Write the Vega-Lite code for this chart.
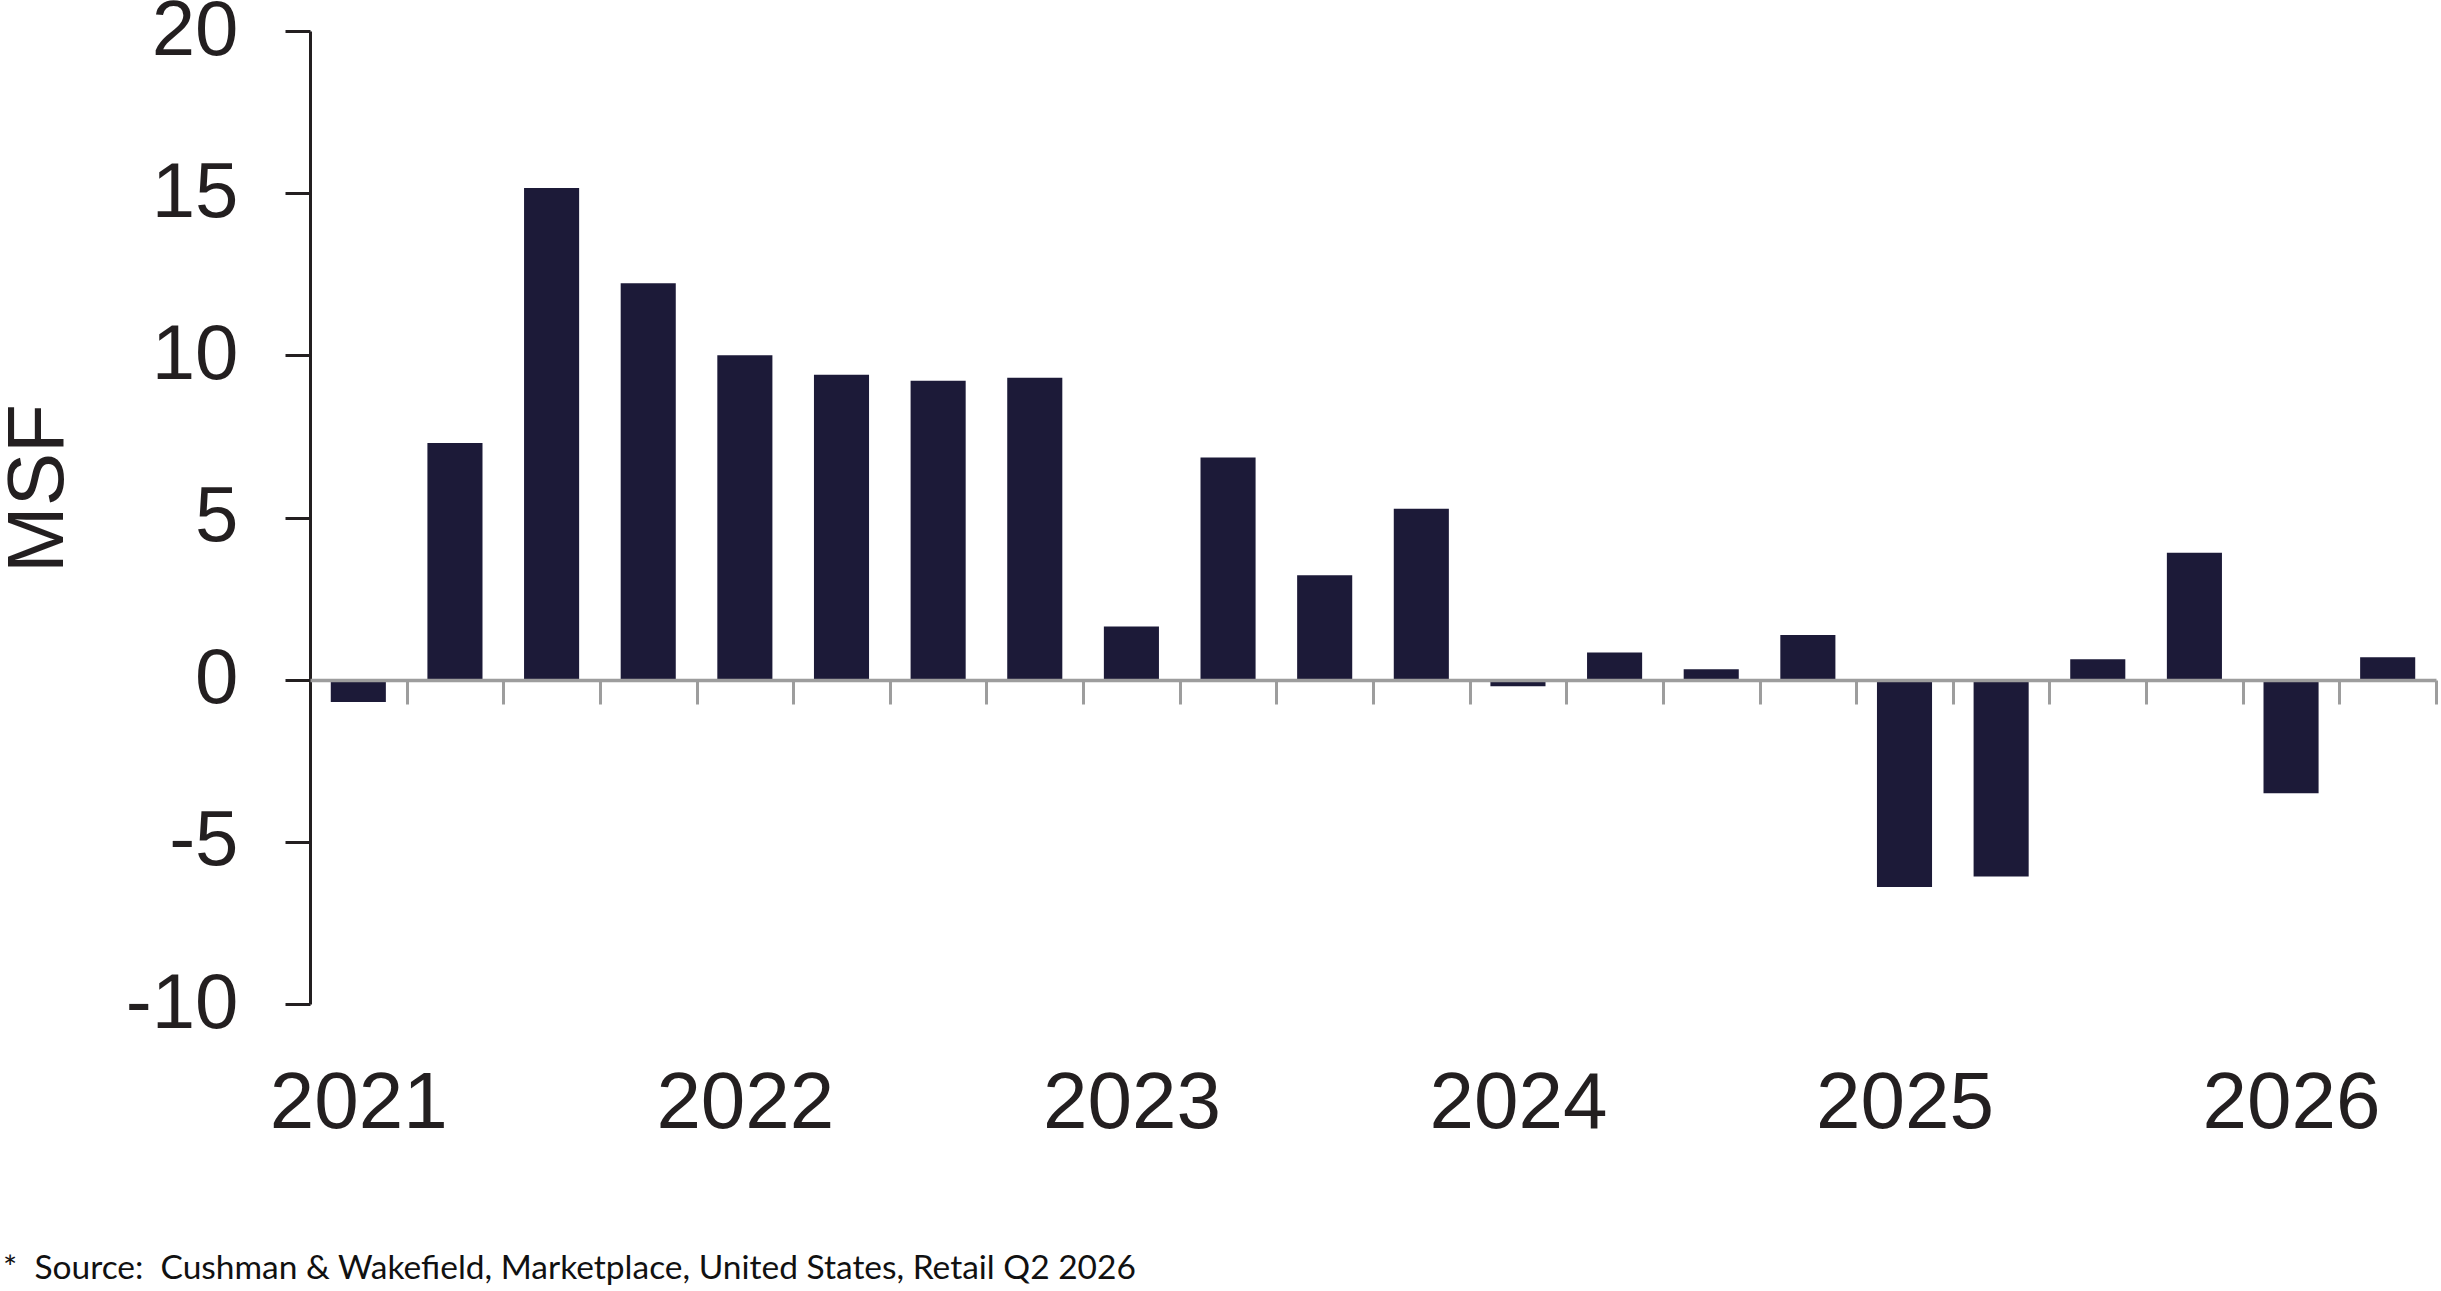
{
  "$schema": "https://vega.github.io/schema/vega-lite/v6.json",
  "autosize": {"type": "none"},
  "width": 2126,
  "height": 973,
  "padding": {"left": 310, "top": 31, "right": 5, "bottom": 287},
  "background": "white",
  "config": {"view": {"stroke": null}},
  "title": {
    "text": "*\u00a0 Source:\u00a0 Cushman & Wakefield, Marketplace, United States, Retail Q2 2026",
    "orient": "bottom",
    "anchor": "start",
    "frame": "group",
    "dx": -307,
    "offset": 136,
    "font": "Lato",
    "fontSize": 33.5,
    "fontWeight": "normal",
    "color": "#111111",
    "baseline": "alphabetic"
  },
  "data": {
    "values": [
      {"q": "2021 Q1", "v": -0.69},
      {"q": "2021 Q2", "v": 7.30},
      {"q": "2021 Q3", "v": 15.16},
      {"q": "2021 Q4", "v": 12.22},
      {"q": "2022 Q1", "v": 10.0},
      {"q": "2022 Q2", "v": 9.40},
      {"q": "2022 Q3", "v": 9.22},
      {"q": "2022 Q4", "v": 9.31},
      {"q": "2023 Q1", "v": 1.64},
      {"q": "2023 Q2", "v": 6.85},
      {"q": "2023 Q3", "v": 3.22},
      {"q": "2023 Q4", "v": 5.27},
      {"q": "2024 Q1", "v": -0.2},
      {"q": "2024 Q2", "v": 0.84},
      {"q": "2024 Q3", "v": 0.32},
      {"q": "2024 Q4", "v": 1.38},
      {"q": "2025 Q1", "v": -6.39},
      {"q": "2025 Q2", "v": -6.07},
      {"q": "2025 Q3", "v": 0.63},
      {"q": "2025 Q4", "v": 3.91},
      {"q": "2026 Q1", "v": -3.50},
      {"q": "2026 Q2", "v": 0.69}
    ]
  },
  "mark": {"type": "bar", "color": "#1c1a38"},
  "encoding": {
    "x": {
      "field": "q",
      "type": "nominal",
      "sort": null,
      "scale": {"paddingInner": 0.43, "paddingOuter": 0.215},
      "axis": {
        "title": null,
        "orient": "bottom",
        "offset": -324,
        "zindex": 1,
        "domainColor": "#9d9d9d",
        "domainWidth": 3.5,
        "tickColor": "#9d9d9d",
        "tickWidth": 3,
        "tickSize": 24,
        "bandPosition": 1,
        "tickExtra": false,
        "tickOffset": 20.78,
        "labelOffset": -20.78,
        "labelAngle": 0,
        "labelOverlap": false,
        "labelFont": "Liberation Sans",
        "labelFontSize": 80,
        "labelColor": "#231f20",
        "labelBaseline": "alphabetic",
        "labelPadding": 423,
        "labelExpr": "indexof(datum.label, 'Q1') >= 0 ? substring(datum.label, 0, 4) : ''"
      }
    },
    "y": {
      "field": "v",
      "type": "quantitative",
      "scale": {"domain": [-10, 20], "nice": false, "zero": false},
      "axis": {
        "title": "MSF",
        "titleFont": "Liberation Sans",
        "titleFontSize": 80,
        "titleFontWeight": "normal",
        "titleColor": "#231f20",
        "titleAngle": -90,
        "titleBaseline": "alphabetic",
        "titleAlign": "center",
        "titleX": -248,
        "titleY": 457,
        "values": [-10, -5, 0, 5, 10, 15, 20],
        "labelExpr": "toString(datum.value)",
        "grid": false,
        "domainColor": "#231f20",
        "domainWidth": 3,
        "tickColor": "#231f20",
        "tickWidth": 3,
        "tickSize": 25,
        "labelFont": "Liberation Sans",
        "labelFontSize": 78,
        "labelColor": "#231f20",
        "labelPadding": 47,
        "labelBaseline": "middle"
      }
    }
  }
}
